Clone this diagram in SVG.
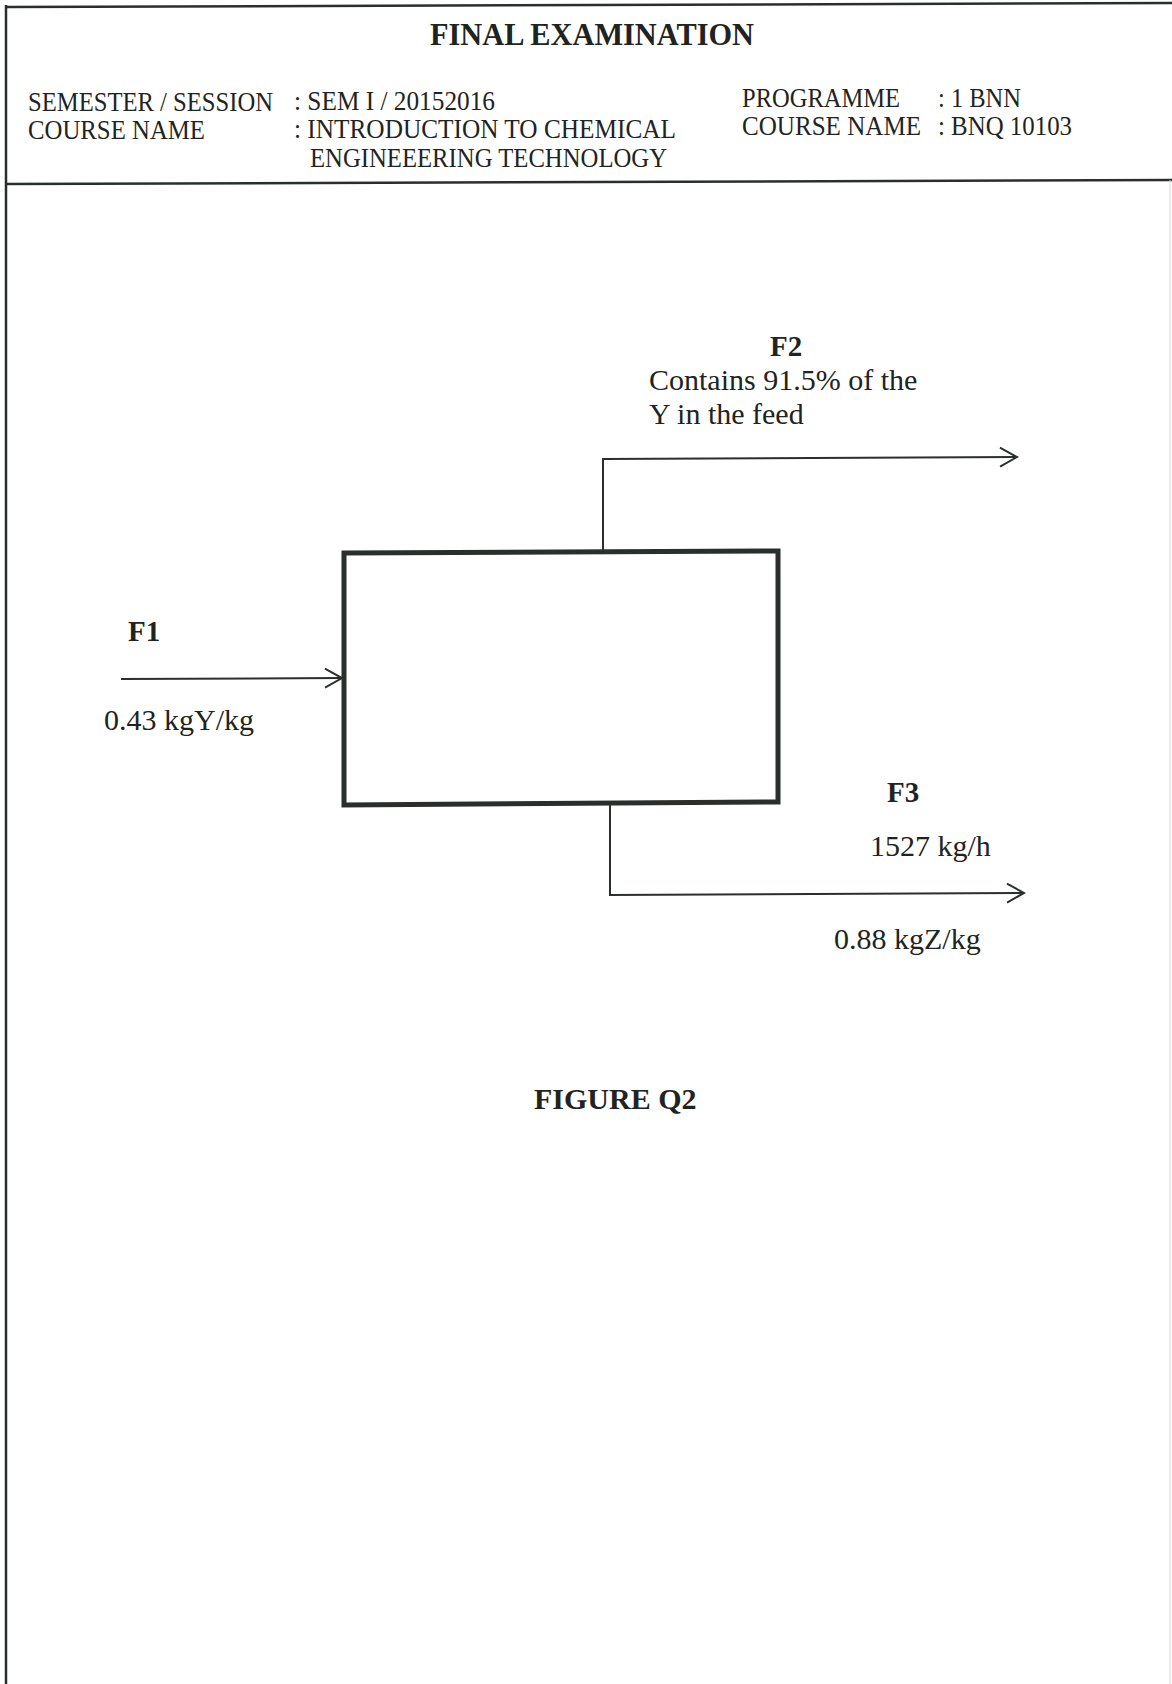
<svg xmlns="http://www.w3.org/2000/svg" width="1172" height="1684" viewBox="0 0 1172 1684">
  <style>
    .hdr { font-family: "Liberation Serif", "Times New Roman", serif; font-size: 27px; fill: #1f2421; }
    .title { font-family: "Liberation Serif", "Times New Roman", serif; font-size: 31px; font-weight: bold; fill: #1f2421; }
    .lbl { font-family: "Liberation Serif", "Times New Roman", serif; font-size: 30px; fill: #1f2421; }
    .lblb { font-family: "Liberation Serif", "Times New Roman", serif; font-size: 29px; font-weight: bold; fill: #1f2421; }
    .frame { fill: none; stroke: #2a2f2c; stroke-width: 2.5; }
    .flow { fill: none; stroke: #2a2f2c; stroke-width: 2; }
    .unit { fill: none; stroke: #2a2f2c; stroke-width: 5; }
  </style>
  <defs>
    <marker id="arrow" viewBox="0 0 20 22" refX="18" refY="11" markerWidth="20" markerHeight="22" markerUnits="userSpaceOnUse" orient="auto">
      <path d="M1,1.5 L18,11 L1,20.5" fill="none" stroke="#2a2f2c" stroke-width="2"/>
    </marker>
  </defs>
  <rect width="1172" height="1684" fill="#ffffff"/>

  <g id="header">
    <path class="frame" d="M6,7 L1172,3"/>
    <path class="frame" d="M6,184 L1172,180"/>
    <path class="frame" d="M6,5 L6,1684"/>
    <line x1="1170" y1="180" x2="1170" y2="1684" stroke="#d8d8d8" stroke-width="1"/>
    <text class="title" x="430" y="45" textLength="324" lengthAdjust="spacingAndGlyphs">FINAL EXAMINATION</text>
    <text class="hdr" x="28" y="111" textLength="245" lengthAdjust="spacingAndGlyphs">SEMESTER / SESSION</text>
    <text class="hdr" x="294" y="110" textLength="201" lengthAdjust="spacingAndGlyphs">: SEM I / 20152016</text>
    <text class="hdr" x="28" y="139" textLength="177" lengthAdjust="spacingAndGlyphs">COURSE NAME</text>
    <text class="hdr" x="294" y="138" textLength="382" lengthAdjust="spacingAndGlyphs">: INTRODUCTION TO CHEMICAL</text>
    <text class="hdr" x="310" y="167" textLength="357" lengthAdjust="spacingAndGlyphs">ENGINEEERING TECHNOLOGY</text>
    <text class="hdr" x="742" y="107" textLength="158" lengthAdjust="spacingAndGlyphs">PROGRAMME</text>
    <text class="hdr" x="938" y="107" textLength="83" lengthAdjust="spacingAndGlyphs">: 1 BNN</text>
    <text class="hdr" x="742" y="135" textLength="179" lengthAdjust="spacingAndGlyphs">COURSE NAME</text>
    <text class="hdr" x="938" y="135" textLength="134" lengthAdjust="spacingAndGlyphs">: BNQ 10103</text>
  </g>

  <g id="connectors">
    <path id="f1-stream" class="flow" d="M121,679 L342,678" marker-end="url(#arrow)"/>
    <path id="f2-stream" class="flow" d="M603,550 L603,459 L1017,457" marker-end="url(#arrow)"/>
    <path id="f3-stream" class="flow" d="M610,805 L610,895 L1024,893" marker-end="url(#arrow)"/>
  </g>

  <g id="process-unit">
    <path class="unit" d="M344,553 L778,551 L778,802 L344,805 Z"/>
  </g>

  <g id="f1-label">
    <text class="lblb" x="128" y="641">F1</text>
    <text class="lbl" x="104" y="730">0.43 kgY/kg</text>
  </g>

  <g id="f2-label">
    <text class="lblb" x="770" y="356">F2</text>
    <text class="lbl" x="649" y="390">Contains 91.5% of the</text>
    <text class="lbl" x="649" y="424">Y in the feed</text>
  </g>

  <g id="f3-label">
    <text class="lblb" x="887" y="802">F3</text>
    <text class="lbl" x="870" y="856">1527 kg/h</text>
    <text class="lbl" x="834" y="949">0.88 kgZ/kg</text>
  </g>

  <g id="caption">
    <text class="title" x="534" y="1109" style="font-size:30px">FIGURE Q2</text>
  </g>
</svg>
